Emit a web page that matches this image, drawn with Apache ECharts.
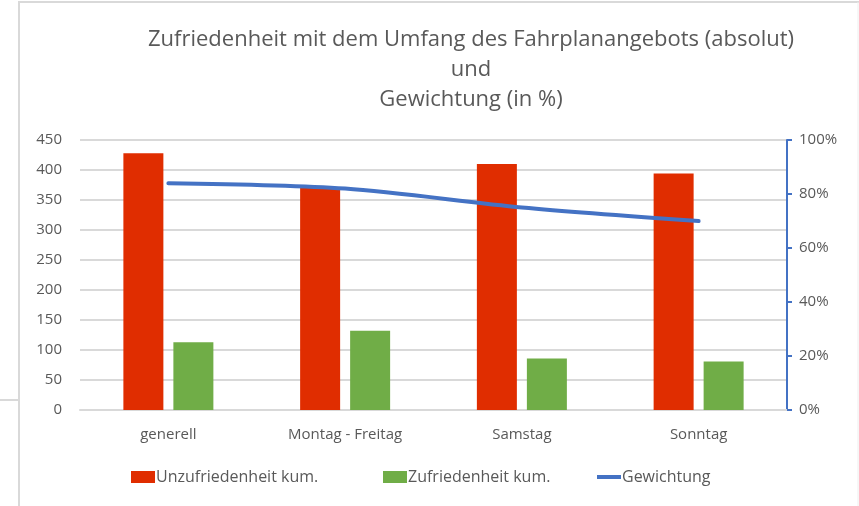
<!DOCTYPE html>
<html>
<head>
<meta charset="utf-8">
<script src="https://cdn.jsdelivr.net/npm/echarts@6/dist/echarts.min.js"></script>
<style>
  html, body { margin: 0; padding: 0; background: #fff; }
  #chart { width: 859px; height: 506px; }
</style>
</head>
<body>
<div id="chart"></div>
<script>
  // Daten
  var kategorien = ['generell', 'Montag - Freitag', 'Samstag', 'Sonntag'];
  var unzufrieden = [428, 370, 410, 394];
  var zufrieden = [113, 132, 86, 81];
  var gewichtung = [84, 82, 75, 70];
  var linksTicks = { min: 0, max: 450, interval: 50 };
  var rechtsTicks = { min: 0, max: 100, interval: 20 };

  var grau = '#595959';
  var schrift = 'Open Sans';

  // Legende: drei Einträge, wie im Original einzeln platziert
  function legende(name, icon, links) {
    return {
      left: links,
      bottom: 16,
      itemWidth: 24,
      itemHeight: 12,
      textStyle: { color: grau, fontFamily: schrift, fontSize: 16, padding: [0, 0, 0, -4] },
      data: [{ name: name, icon: icon }]
    };
  }

  var myChart = echarts.init(document.getElementById('chart'));
  myChart.setOption({
    animation: false,
    title: {
      text: 'Zufriedenheit mit dem Umfang des Fahrplanangebots (absolut)\nund\nGewichtung (in %)',
      left: 466,
      top: 20,
      textAlign: 'center',
      textStyle: {
        color: grau,
        fontFamily: schrift,
        fontWeight: 'normal',
        fontSize: 22,
        lineHeight: 30
      }
    },
    grid: {
      left: 80,
      right: 72,
      top: 140,
      bottom: 96
    },
    legend: [
      legende('Unzufriedenheit kum.', 'rect', 126),
      legende('Zufriedenheit kum.', 'rect', 378),
      legende('Gewichtung', 'path://M0,0 L24,0 L24,4 L0,4 Z', 592)
    ],
    xAxis: {
      type: 'category',
      data: kategorien,
      axisLine: { lineStyle: { color: '#d9d9d9', width: 2 } },
      axisTick: { show: false },
      axisLabel: { color: grau, fontFamily: schrift, fontSize: 15, margin: 17 }
    },
    yAxis: [
      {
        type: 'value',
        min: linksTicks.min,
        max: linksTicks.max,
        interval: linksTicks.interval,
        axisLine: { show: false },
        axisTick: { show: false },
        axisLabel: { color: grau, fontFamily: schrift, fontSize: 15, margin: 18 },
        splitLine: { lineStyle: { color: '#d9d9d9', width: 2 } }
      },
      {
        type: 'value',
        position: 'right',
        min: rechtsTicks.min,
        max: rechtsTicks.max,
        interval: rechtsTicks.interval,
        axisLine: { show: true, lineStyle: { color: '#4472c4', width: 2 } },
        axisTick: { show: true, inside: false, length: 5, lineStyle: { color: '#4472c4', width: 2 } },
        axisLabel: { color: grau, fontFamily: schrift, fontSize: 15, margin: 12, formatter: '{value}%' },
        splitLine: { show: false }
      }
    ],
    series: [
      {
        name: 'Unzufriedenheit kum.',
        type: 'bar',
        barWidth: 40,
        barGap: '25%',
        itemStyle: { color: '#e02d00' },
        data: unzufrieden
      },
      {
        name: 'Zufriedenheit kum.',
        type: 'bar',
        barWidth: 40,
        barGap: '25%',
        itemStyle: { color: '#70ad47' },
        data: zufrieden
      },
      {
        name: 'Gewichtung',
        type: 'line',
        yAxisIndex: 1,
        smooth: 0.3,
        symbol: 'none',
        lineStyle: { color: '#4472c4', width: 4, cap: 'round' },
        itemStyle: { color: '#4472c4' },
        data: gewichtung
      }
    ],
    // Rahmen wie im Screenshot
    graphic: [
      { type: 'line', shape: { x1: 18, y1: 2, x2: 859, y2: 2 }, style: { stroke: '#d9d9d9', lineWidth: 2 }, silent: true },
      { type: 'line', shape: { x1: 19, y1: 2, x2: 19, y2: 506 }, style: { stroke: '#d9d9d9', lineWidth: 2 }, silent: true },
      { type: 'line', shape: { x1: 858, y1: 2, x2: 858, y2: 506 }, style: { stroke: '#eeeeee', lineWidth: 1 }, silent: true },
      { type: 'line', shape: { x1: 0, y1: 400, x2: 18, y2: 400 }, style: { stroke: '#d9d9d9', lineWidth: 2 }, silent: true }
    ]
  });
</script>
</body>
</html>
